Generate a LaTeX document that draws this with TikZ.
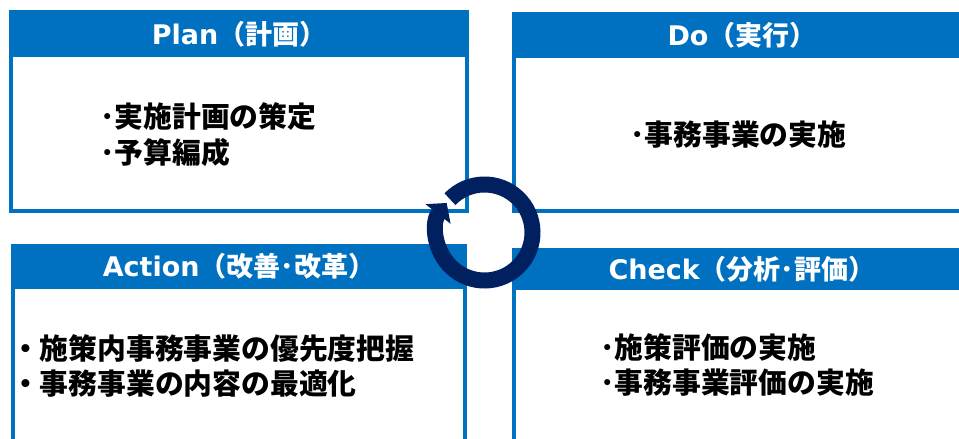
\documentclass[tikz,border=0pt]{standalone}
\usepackage{fontspec}
\setmainfont{Noto Sans CJK JP}
\newfontfamily\latinhd{DejaVu Sans}
\usetikzlibrary{arrows.meta}
\definecolor{hdrblue}{HTML}{0070C0}
\definecolor{navy}{HTML}{002060}
\tikzset{
  panel/.style={draw=hdrblue, line width=4pt, fill=white, rectangle, inner sep=0pt},
  hdrband/.style={fill=hdrblue},
  hdrtext/.style={text=white, inner sep=0pt, font=\fontsize{27}{30}\selectfont\bfseries},
  bodytext/.style={text=black, inner sep=0pt, anchor=west, align=left, font=\fontsize{28.8}{35.7}\selectfont\bfseries},
  cycle/.style={draw=navy, line width=16pt, -{Triangle[width=31pt,length=14pt]}}
}
\begin{document}
\begin{tikzpicture}[x=1pt,y=-1pt]
\useasboundingbox (0,0) rectangle (959,439);
\clip (0,0) rectangle (959,439);
\fill[white] (0,0) rectangle (959,439);
% Plan
\node[panel, minimum width=456pt, minimum height=199pt] (plan) at (239,111.5) {};
\fill[hdrband] (9,10) rectangle (469,57);
\node[hdrtext] (planh) at (239,34) {{\latinhd\bfseries Plan}（計画）};
\node[bodytext] (planb) at (100,134.5) {･実施計画の策定\\･予算編成};
% Do
\node[panel, minimum width=456pt, minimum height=197pt] (do) at (742,112.5) {};
\fill[hdrband] (512,12) rectangle (972,58);
\node[hdrtext] (doh) at (742,35) {{\latinhd\bfseries Do}（実行）};
\node[bodytext] (dob) at (630,135) {･事務事業の実施};
% Action
\node[panel, minimum width=452pt, minimum height=212pt] (act) at (239,352) {};
\fill[hdrband] (11,244) rectangle (467,289);
\node[hdrtext] (acth) at (239,266) {{\latinhd\bfseries Action}（改善･改革）};
\node[bodytext] (actb) at (11,366) {・施策内事務事業の優先度把握\\・事務事業の内容の最適化};
% Check
\node[panel, minimum width=456pt, minimum height=208pt] (chk) at (742,354) {};
\fill[hdrband] (512,248) rectangle (972,290);
\node[hdrtext] (chkh) at (742,269) {{\latinhd\bfseries Check}（分析･評価）};
\node[bodytext] (chkb) at (600,365) {･施策評価の実施\\･事務事業評価の実施};
% cycle arrow
\coordinate (c) at (484.5,232.5);
\draw[cycle] ([shift={(136:48pt)}]c) arc[start angle=136, end angle=-218, radius=48pt];
\end{tikzpicture}
\end{document}
